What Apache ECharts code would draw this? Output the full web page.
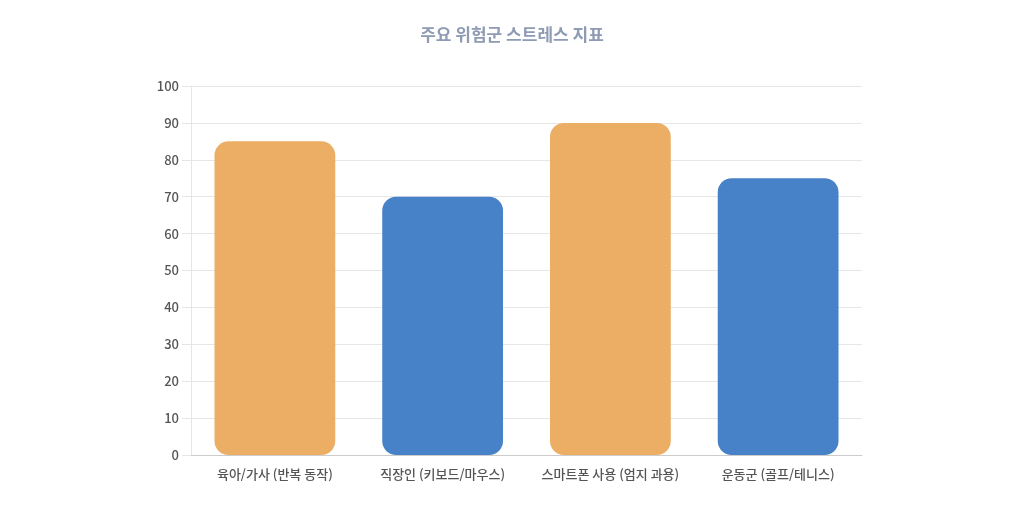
<!DOCTYPE html>
<html>
<head>
    <meta charset="utf-8">
    <title>주요 위험군 스트레스 지표</title>
    <script type="text/javascript" src="https://cdn.jsdelivr.net/npm/echarts@6/dist/echarts.min.js"></script>
    <style>
        html, body { margin: 0; padding: 0; background: #fff; }
        #main { width: 1024px; height: 509px; }
    </style>
</head>
<body>
    <div id="main"></div>
    <script type="text/javascript">
        // 데이터
        var categories = ['육아/가사 (반복 동작)', '직장인 (키보드/마우스)', '스마트폰 사용 (엄지 과용)', '운동군 (골프/테니스)'];
        var values = [85, 70, 90, 75];
        var barColors = ['#ebae64', '#4781c8', '#ebae64', '#4781c8'];

        var myChart = echarts.init(document.getElementById('main'));
        var font = '"Noto Sans CJK KR", "Noto Sans", sans-serif';

        var option = {
            title: {
                text: '주요 위험군 스트레스 지표',
                left: 'center',
                top: 21,
                textStyle: { color: '#8e9bb3', fontSize: 17, fontWeight: 'bold', fontFamily: font }
            },
            grid: { left: 191, right: 162, top: 86, bottom: 54 },
            xAxis: {
                type: 'category',
                data: categories,
                axisTick: { show: false },
                axisLine: { lineStyle: { color: '#cccccc' } },
                axisLabel: { interval: 0, color: '#555555', fontSize: 13, fontWeight: 500, fontFamily: font, margin: 13 }
            },
            yAxis: {
                type: 'value',
                min: 0,
                max: 100,
                interval: 10,
                axisLine: { show: true, lineStyle: { color: '#e6e6e6' } },
                axisTick: { show: true, length: 9, lineStyle: { color: '#e6e6e6' } },
                splitLine: { lineStyle: { color: '#e6e6e6' } },
                axisLabel: { color: '#555555', fontSize: 13, fontWeight: 500, fontFamily: font, margin: 12 }
            },
            series: [{
                type: 'bar',
                barCategoryGap: '28%',
                data: values.map(function (v, i) {
                    return { value: v, itemStyle: { color: barColors[i] } };
                }),
                itemStyle: { borderRadius: 14 }
            }]
        };

        myChart.setOption(option);
    </script>
</body>
</html>
